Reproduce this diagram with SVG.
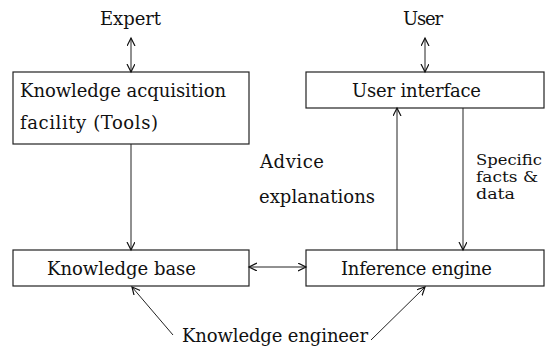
<svg xmlns="http://www.w3.org/2000/svg" width="549" height="349" viewBox="0 0 549 349">
<defs>
<marker id="ah" markerUnits="userSpaceOnUse" markerWidth="10" markerHeight="10" refX="8" refY="4" orient="auto-start-reverse">
<path d="M0,0 L8,4 L0,8" fill="none" stroke="#111" stroke-width="1.2"/>
</marker>
<style>
text{font-family:"DejaVu Serif","Liberation Serif",serif;fill:#111;}
.t{font-size:18px;}
.s{font-size:14px;}
.box{fill:#fff;stroke:#222;stroke-width:1.2;}
.c line{stroke:#222;stroke-width:1;}
</style>
</defs>
<rect width="549" height="349" fill="#fff"/>
<g id="expert"><text class="t" x="100" y="25" textLength="61">Expert</text></g>
<g id="user"><text class="t" x="403" y="25" textLength="40">User</text></g>
<g id="ka"><rect class="box" x="13" y="72" width="236" height="72"/>
<text class="t" x="20" y="97" textLength="206">Knowledge acquisition</text>
<text class="t" x="20" y="129" textLength="138">facility (Tools)</text></g>
<g id="ui"><rect class="box" x="306" y="72" width="238" height="36"/>
<text class="t" x="352" y="97" textLength="129">User interface</text></g>
<g id="kb"><rect class="box" x="13" y="250" width="236" height="36"/>
<text class="t" x="47" y="275" textLength="149">Knowledge base</text></g>
<g id="ie"><rect class="box" x="306" y="250" width="238" height="36"/>
<text class="t" x="341" y="275" textLength="151">Inference engine</text></g>
<g id="advice"><text class="t" x="260" y="168" textLength="64">Advice</text>
<text class="t" x="259" y="203" textLength="116">explanations</text></g>
<g id="facts"><text class="s" x="476" y="165" textLength="66" lengthAdjust="spacingAndGlyphs">Specific</text>
<text class="s" x="476" y="182" textLength="62" lengthAdjust="spacingAndGlyphs">facts &amp;</text>
<text class="s" x="476" y="199" textLength="39" lengthAdjust="spacingAndGlyphs">data</text></g>
<g id="ke"><text class="t" x="182" y="342" textLength="186">Knowledge engineer</text></g>
<g class="c" id="connectors">
<line x1="131" y1="38" x2="131" y2="72" marker-start="url(#ah)" marker-end="url(#ah)"/>
<line x1="425" y1="38" x2="425" y2="72" marker-start="url(#ah)" marker-end="url(#ah)"/>
<line x1="131" y1="144" x2="131" y2="250" marker-end="url(#ah)"/>
<line x1="397" y1="250" x2="397" y2="108" marker-end="url(#ah)"/>
<line x1="463" y1="108" x2="463" y2="250" marker-end="url(#ah)"/>
<line x1="249" y1="267" x2="306" y2="267" marker-start="url(#ah)" marker-end="url(#ah)"/>
<line x1="173" y1="335" x2="132" y2="287" marker-end="url(#ah)"/>
<line x1="371" y1="340" x2="425" y2="287" marker-end="url(#ah)"/>
</g>
</svg>
